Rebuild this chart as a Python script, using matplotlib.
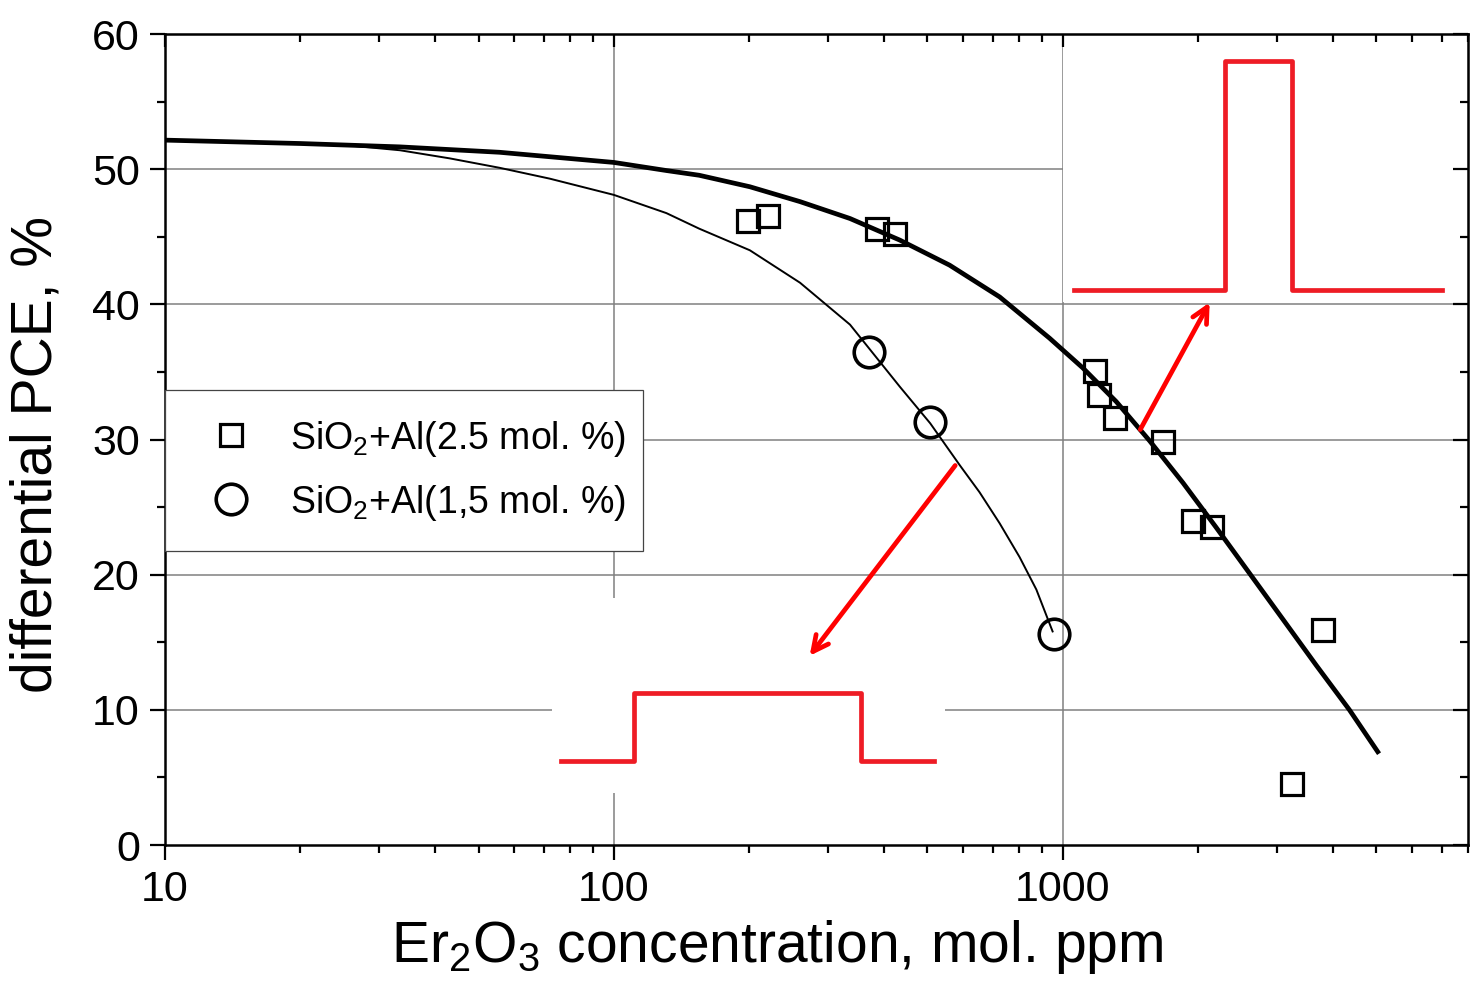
import numpy as np
import matplotlib
matplotlib.use('Agg')
import matplotlib.pyplot as plt
from matplotlib.patches import Rectangle
from matplotlib.ticker import FormatStrFormatter, MultipleLocator

plt.rcParams['font.family'] = ['Liberation Sans', 'DejaVu Sans']
plt.rcParams['mathtext.fontset'] = 'custom'
plt.rcParams['mathtext.rm'] = 'Liberation Sans'
plt.rcParams['mathtext.it'] = 'Liberation Sans:italic'

# measured points
sq_x = [199, 221, 385, 423, 1178, 1203, 1306, 1673, 1950, 2155, 3800, 3247]
sq_y = [46.2, 46.5, 45.6, 45.2, 35.1, 33.3, 31.6, 29.8, 24.0, 23.5, 15.9, 4.5]
circ_x = [370, 507, 955]
circ_y = [36.5, 31.3, 15.6]

# fit curves
fit1_x = [10, 20, 33.4, 55.7, 100, 131, 155, 201, 260, 336, 434, 560, 724, 935,
          1109, 1317, 1563, 1854, 2198, 2609, 3096, 3673, 4355, 5036]
fit1_y = [52.15, 51.9, 51.65, 51.25, 50.5, 49.9, 49.55, 48.7, 47.6, 46.35, 44.75, 42.9,
          40.55, 37.5, 35.3, 32.8, 29.9, 26.8, 23.5, 20.1, 16.7, 13.3, 10.0, 6.9]
fit2_x = [10, 20, 25.8, 33.4, 43.1, 55.7, 72, 100, 131, 155, 201, 260, 336, 434,
          507, 590, 653, 724, 802, 874, 950]
fit2_y = [52.15, 51.9, 51.75, 51.4, 50.8, 50.1, 49.3, 48.1, 46.75, 45.6, 44.0, 41.6,
          38.5, 33.9, 31.2, 28.1, 26.1, 23.8, 21.3, 18.9, 15.8]

grid_x = [100, 1000]
grid_y = [10, 20, 30, 40, 50]

fig = plt.figure(figsize=(14.7, 9.89), dpi=100)
ax = fig.add_axes([0.1122, 0.1456, 0.8864, 0.82])
ax.set_xscale('log')
ax.set_xlim(10, 8000)
ax.set_ylim(0, 60)

for gx in grid_x:
    ax.axvline(gx, color='#808080', lw=1.1, zorder=0.6)
for gy in grid_y:
    ax.axhline(gy, color='#808080', lw=1.1, zorder=0.6)

# white backgrounds of the pasted insets
ax.add_patch(Rectangle((0.297, 0.064), 0.302, 0.241, transform=ax.transAxes,
                       facecolor='white', edgecolor='none', zorder=0.9))
ax.add_patch(Rectangle((0.689, 0.669), 0.311, 0.331, transform=ax.transAxes,
                       facecolor='white', edgecolor='none', zorder=0.9))

ax.plot(fit1_x, fit1_y, color='black', lw=3.4, zorder=3)
ax.plot(fit2_x, fit2_y, color='black', lw=1.4, zorder=3)
ax.plot(sq_x, sq_y, ls='none', marker='s', ms=16, mfc='none', mec='black',
        mew=2.3, zorder=4, label='SiO$_2$+Al(2.5 mol. %)')
ax.plot(circ_x, circ_y, ls='none', marker='o', ms=22, mfc='none', mec='black',
        mew=2.6, zorder=4, label='SiO$_2$+Al(1,5 mol. %)')

# red step sketches and arrows
red = '#ee1c25'
ax.plot([0.304, 0.360, 0.360, 0.534, 0.534, 0.590],
        [0.103, 0.103, 0.187, 0.187, 0.103, 0.103],
        transform=ax.transAxes, color=red, lw=3.4, zorder=5, clip_on=False)
ax.plot([0.698, 0.8135, 0.8135, 0.865, 0.865, 0.980],
        [0.684, 0.684, 0.967, 0.967, 0.684, 0.684],
        transform=ax.transAxes, color=red, lw=3.4, zorder=5, clip_on=False)
ax.annotate('', xy=(0.4935, 0.2306), xytext=(0.6078, 0.4707), xycoords='axes fraction',
            arrowprops=dict(arrowstyle='->', color='red', lw=3.4, mutation_scale=28), zorder=5)
ax.annotate('', xy=(0.8028, 0.672), xytext=(0.7475, 0.5093), xycoords='axes fraction',
            arrowprops=dict(arrowstyle='->', color='red', lw=3.4, mutation_scale=28), zorder=5)

ax.xaxis.set_major_formatter(FormatStrFormatter('%g'))
ax.yaxis.set_major_locator(MultipleLocator(10))
ax.yaxis.set_minor_locator(MultipleLocator(5))
ax.tick_params(which='both', direction='out', width=1.6, labelsize=31, top=False, right=False)
ax.tick_params(which='major', length=11, pad=7)
ax.tick_params(which='minor', length=5.5)
for s in ax.spines.values():
    s.set_linewidth(1.8)

secx = ax.secondary_xaxis('top')
secx.tick_params(which='both', direction='in', width=1.6, labeltop=False)
secx.tick_params(which='major', length=9)
secx.tick_params(which='minor', length=5.5)
secx.set_zorder(2)
secy = ax.secondary_yaxis('right')
secy.yaxis.set_major_locator(MultipleLocator(10))
secy.yaxis.set_minor_locator(MultipleLocator(5))
secy.tick_params(which='both', direction='in', width=1.6, labelright=False)
secy.tick_params(which='major', length=11)
secy.tick_params(which='minor', length=5.5)
secy.set_zorder(2)

ax.set_xlabel('Er$_2$O$_3$ concentration, mol. ppm', fontsize=41)
ax.set_ylabel('differential PCE, %', fontsize=41)
ax.xaxis.set_label_coords(0.47, -0.09)
ax.yaxis.set_label_coords(-0.078, 0.481)

leg = ax.legend(loc='upper left', bbox_to_anchor=(0, 0.30, 0.3668, 0.261), mode='expand',
                borderaxespad=0, fontsize=27, numpoints=1, handlelength=2,
                handletextpad=0.57, borderpad=0.76, labelspacing=0.64, fancybox=False,
                framealpha=1, edgecolor='#444444')
leg.get_frame().set_linewidth(0.9)

fig.savefig('out.png', dpi=100)
